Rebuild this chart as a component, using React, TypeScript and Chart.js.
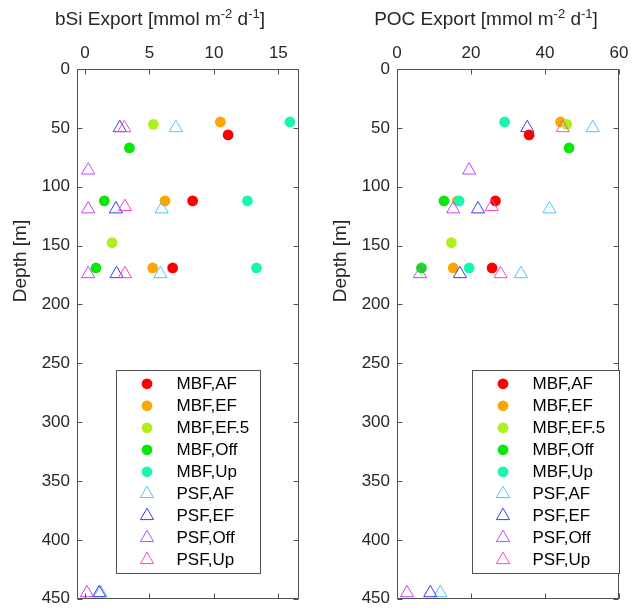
import React, { useEffect, useRef } from 'react';
import { Chart, registerables } from 'chart.js';

Chart.register(...registerables);

const FONT = '"Liberation Sans", Arial, Helvetica, sans-serif';
const TEXT_COLOR = '#262626';
const AXIS_COLOR = '#505050';

// Legend / series definitions
const seriesNames = ['MBF,AF', 'MBF,EF', 'MBF,EF.5', 'MBF,Off', 'MBF,Up', 'PSF,AF', 'PSF,EF', 'PSF,Off', 'PSF,Up'];
const seriesColors = ['#ff0000', '#ffa500', '#adf01e', '#0be60b', '#1af5b0', '#52c3ff', '#3a3aff', '#c147ff', '#ff45c3'];
const seriesMarkers = ['circle', 'circle', 'circle', 'circle', 'circle', 'triangle', 'triangle', 'triangle', 'triangle'];

// Tick values
const depthTicks = [0, 50, 100, 150, 200, 250, 300, 350, 400, 450];
const bsiTicks = [0, 5, 10, 15];
const pocTicks = [0, 20, 40, 60];

// bSi export: [value, depth]
const bsiMBF_AF = [[11.1, 56], [8.35, 112], [6.8, 169]];
const bsiMBF_EF = [[10.5, 45], [6.2, 112], [5.25, 169]];
const bsiMBF_EF5 = [[5.3, 47], [2.1, 147.5]];
const bsiMBF_Off = [[3.45, 67], [1.5, 112], [0.85, 169]];
const bsiMBF_Up = [[15.9, 45], [12.6, 112], [13.3, 169]];
const bsiPSF_AF = [[7.05, 50], [5.95, 119], [5.85, 174], [1.2, 445]];
const bsiPSF_EF = [[2.7, 50], [2.4, 119], [2.45, 174], [1.1, 445]];
const bsiPSF_Off = [[0.25, 86], [0.25, 119], [0.25, 174], [0.15, 445]];
const bsiPSF_Up = [[3.05, 50], [3.1, 117], [3.1, 174]];

// POC export: [value, depth]
const pocMBF_AF = [[35.7, 56], [26.6, 112], [25.7, 169]];
const pocMBF_EF = [[44.2, 45], [16.3, 112], [15.2, 169]];
const pocMBF_EF5 = [[45.9, 47], [14.7, 147.5]];
const pocMBF_Off = [[46.5, 67], [12.7, 112], [6.6, 169]];
const pocMBF_Up = [[29.1, 45], [16.8, 112], [19.5, 169]];
const pocPSF_AF = [[52.9, 50], [41.2, 119], [33.5, 174], [11.7, 445]];
const pocPSF_EF = [[35.2, 50], [21.9, 119], [17.0, 174], [9.0, 445]];
const pocPSF_Off = [[19.5, 86], [15.2, 119], [6.2, 174], [2.7, 445]];
const pocPSF_Up = [[44.8, 50], [25.6, 117], [28.0, 174]];

const bsiSeries = [bsiMBF_AF, bsiMBF_EF, bsiMBF_EF5, bsiMBF_Off, bsiMBF_Up, bsiPSF_AF, bsiPSF_EF, bsiPSF_Off, bsiPSF_Up];
const pocSeries = [pocMBF_AF, pocMBF_EF, pocMBF_EF5, pocMBF_Off, pocMBF_Up, pocPSF_AF, pocPSF_EF, pocPSF_Off, pocPSF_Up];

const CIRCLE_R = 5.4;
const TRI_R = 7.6;

function drawMarker(ctx: CanvasRenderingContext2D, kind: string, color: string, x: number, y: number) {
  ctx.beginPath();
  if (kind === 'circle') {
    ctx.fillStyle = color;
    ctx.arc(x, y, CIRCLE_R, 0, Math.PI * 2);
    ctx.fill();
  } else {
    const s = Math.sin(Math.PI * 2 / 3) * TRI_R;
    ctx.strokeStyle = color;
    ctx.lineWidth = 1;
    ctx.moveTo(x, y - TRI_R);
    ctx.lineTo(x + s, y + TRI_R / 2);
    ctx.lineTo(x - s, y + TRI_R / 2);
    ctx.closePath();
    ctx.stroke();
  }
}

const framePlugin = {
  id: 'matlabFrame',
  afterDraw(chart: any, _args: any, opts: any) {
    const { ctx, chartArea: a, scales } = chart;
    const xs = scales.x;
    const ys = scales.y;
    ctx.save();
    // axes box
    ctx.strokeStyle = AXIS_COLOR;
    ctx.lineWidth = 1;
    const L = Math.round(a.left) + 0.5;
    const R = Math.round(a.right) - 0.5;
    const T = Math.round(a.top) + 0.5;
    const B = Math.round(a.bottom) - 0.5;
    ctx.strokeRect(L, T, R - L, B - T);
    ctx.beginPath();
    for (const t of xs.ticks) {
      const p = Math.round(xs.getPixelForValue(t.value)) + 0.5;
      ctx.moveTo(p, T); ctx.lineTo(p, T + 5);
      ctx.moveTo(p, B); ctx.lineTo(p, B - 5);
    }
    for (const t of ys.ticks) {
      const p = Math.round(ys.getPixelForValue(t.value)) + 0.5;
      ctx.moveTo(L, p); ctx.lineTo(L + 5, p);
      ctx.moveTo(R, p); ctx.lineTo(R - 5, p);
    }
    ctx.stroke();

    // top title with superscripts
    const parts: [string, boolean][] = opts.titleParts;
    const mainFont = `19px ${FONT}`;
    const supFont = `13px ${FONT}`;
    let total = 0;
    for (const [txt, sup] of parts) {
      ctx.font = sup ? supFont : mainFont;
      total += ctx.measureText(txt).width;
    }
    let x = (a.left + a.right) / 2 + opts.titleShift - total / 2;
    ctx.fillStyle = TEXT_COLOR;
    ctx.textAlign = 'left';
    ctx.textBaseline = 'alphabetic';
    for (const [txt, sup] of parts) {
      ctx.font = sup ? supFont : mainFont;
      ctx.fillText(txt, x, sup ? 18 : 25);
      x += ctx.measureText(txt).width;
    }

    // y title
    ctx.save();
    ctx.translate(21, 261);
    ctx.rotate(-Math.PI / 2);
    ctx.font = mainFont;
    ctx.textAlign = 'center';
    ctx.textBaseline = 'middle';
    ctx.fillText(opts.yTitle, 0, 0);
    ctx.restore();

    // legend
    const bx = Math.round(a.left + opts.legendX) + 0.5;
    const by = Math.round(a.top + 301) + 0.5;
    const bw = opts.legendW;
    const bh = 203;
    ctx.fillStyle = '#ffffff';
    ctx.fillRect(bx, by, bw, bh);
    ctx.strokeStyle = AXIS_COLOR;
    ctx.strokeRect(bx, by, bw, bh);
    ctx.font = `17px ${FONT}`;
    ctx.textAlign = 'left';
    ctx.textBaseline = 'middle';
    seriesNames.forEach((name, i) => {
      const ry = by + 13.3 + i * 22;
      drawMarker(ctx, seriesMarkers[i], seriesColors[i], bx + 30.5, ry);
      ctx.fillStyle = '#000000';
      ctx.fillText(name, bx + 60, ry + 1);
    });
    ctx.restore();
  },
};

function buildConfig(series: number[][][], xMin: number, xMax: number, xTicks: number[], panel: any, padRight: number) {
  const datasets = series.map((pts, i) => {
    const tri = seriesMarkers[i] === 'triangle';
    return {
      label: seriesNames[i],
      data: pts.map(([v, d]) => ({ x: v, y: d })),
      pointStyle: seriesMarkers[i],
      pointRadius: tri ? TRI_R : CIRCLE_R,
      pointHoverRadius: tri ? TRI_R : CIRCLE_R,
      backgroundColor: tri ? 'rgba(0,0,0,0)' : seriesColors[i],
      borderColor: seriesColors[i],
      borderWidth: tri ? 1 : 0,
      showLine: false,
      order: -i,
      clip: false as any,
    };
  });
  return {
    type: 'scatter' as const,
    data: { datasets },
    options: {
      responsive: false,
      animation: false as const,
      devicePixelRatio: 1,
      layout: { padding: { left: 0, top: 0, right: padRight, bottom: 12 } },
      plugins: {
        legend: { display: false },
        tooltip: { enabled: false },
        matlabFrame: panel,
      },
      scales: {
        x: {
          type: 'linear' as const,
          position: 'top' as const,
          min: xMin,
          max: xMax,
          grid: { display: false, drawTicks: false },
          border: { display: false },
          afterBuildTicks: (s: any) => { s.ticks = xTicks.map((v) => ({ value: v })); },
          afterFit: (s: any) => { s.height = 69; },
          ticks: { padding: 5, color: TEXT_COLOR, font: { size: 17, family: FONT }, maxRotation: 0 },
        },
        y: {
          type: 'linear' as const,
          position: 'left' as const,
          reverse: true,
          min: 0,
          max: 450,
          grid: { display: false, drawTicks: false },
          border: { display: false },
          afterBuildTicks: (s: any) => { s.ticks = depthTicks.map((v) => ({ value: v })); },
          afterFit: (s: any) => { s.width = 77; },
          ticks: { padding: 7, color: TEXT_COLOR, font: { size: 17, family: FONT } },
        },
      },
    },
    plugins: [framePlugin],
  };
}

function Panel(props: { cfg: any; left: number; width: number }) {
  const ref = useRef<HTMLCanvasElement | null>(null);
  useEffect(() => {
    if (!ref.current) return;
    const chart = new Chart(ref.current, props.cfg);
    return () => chart.destroy();
  }, []);
  return (
    <canvas
      ref={ref}
      width={props.width}
      height={616}
      style={{ position: 'absolute', left: props.left, top: 0, width: props.width, height: 616 }}
    />
  );
}

export default function App() {
  const bsiCfg = buildConfig(bsiSeries, -0.62, 16.6, bsiTicks, {
    titleParts: [['bSi Export [mmol m', false], ['-2', true], [' d', false], ['-1', true], [']', false]],
    titleShift: -28,
    yTitle: 'Depth [m]',
    legendX: 39,
    legendW: 144,
  }, 21);
  const pocCfg = buildConfig(pocSeries, 0, 60, pocTicks, {
    titleParts: [['POC Export [mmol m', false], ['-2', true], [' d', false], ['-1', true], [']', false]],
    titleShift: -22,
    yTitle: 'Depth [m]',
    legendX: 75,
    legendW: 147,
  }, 20);
  return (
    <div style={{ position: 'absolute', left: 0, top: 0, width: 639, height: 616, background: '#ffffff', overflow: 'hidden' }}>
      <Panel cfg={bsiCfg} left={0} width={320} />
      <Panel cfg={pocCfg} left={320} width={319} />
    </div>
  );
}
